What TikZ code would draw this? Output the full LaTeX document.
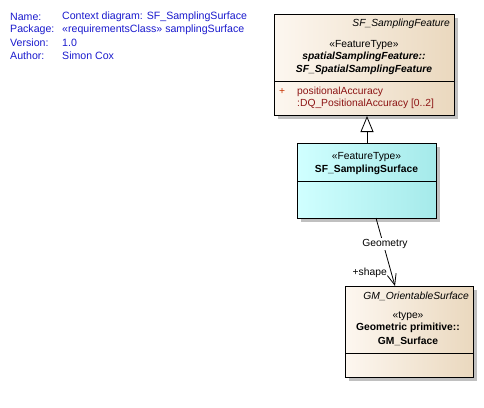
\documentclass[tikz,border=0pt]{standalone}
\usepackage{fontspec}
\setmainfont{Liberation Sans}
\usetikzlibrary{arrows.meta,shadows}
\definecolor{hdrblue}{RGB}{25,25,205}
\definecolor{attrred}{RGB}{140,20,20}
\definecolor{plusred}{RGB}{200,50,0}
\definecolor{beigeL}{RGB}{253,247,240}
\definecolor{beigeR}{RGB}{234,216,190}
\definecolor{cyanL}{RGB}{208,255,255}
\definecolor{cyanR}{RGB}{165,234,234}
\definecolor{shadowgray}{RGB}{192,192,192}
\begin{document}
\begin{tikzpicture}[x=1pt,y=-1pt,
  font=\fontsize{10.3}{12}\selectfont,
  umlbox/.style={draw=black, line width=1pt, inner sep=0pt, anchor=north west,
    drop shadow={shadow xshift=3pt, shadow yshift=-3pt, fill=shadowgray, opacity=1}},
  beigebox/.style={umlbox, left color=beigeL, right color=beigeR},
  cyanbox/.style={umlbox, left color=cyanL, right color=cyanR},
  divider/.style={line width=1pt},
  txt/.style={inner sep=0pt, anchor=center},
  hdr/.style={inner sep=0pt, anchor=west, text=hdrblue, font=\fontsize{10.6}{12}\selectfont},
  attr/.style={inner sep=0pt, anchor=west, text=attrred},
  conn/.style={line width=0.8pt},
  gen/.style={conn, -{Triangle[open, fill=white, length=16pt, width=13pt]}},
  assoc/.style={conn, -{Straight Barb[length=11pt, width=9pt]}}
]
\useasboundingbox (0,0) rectangle (484,407);

% header
\node[hdr] (h1) at (10,17) {Name:};
\node[hdr] (h2) at (10,30) {Package:};
\node[hdr] (h3) at (10,43) {Version:};
\node[hdr] (h4) at (10,56) {Author:};
\node[hdr] (v1) at (62,17) {Context diagram: SF\_SamplingSurface};
\node[hdr] (v2) at (62,30) {«requirementsClass» samplingSurface};
\node[hdr] (v3) at (62,43) {1.0};
\node[hdr] (v4) at (62,56) {Simon Cox};

% SF_SamplingFeature
\node[beigebox, minimum width=180pt, minimum height=101pt] (sf) at (274,14) {};
\draw[divider] (sf.west |- 0,81) -- (sf.east |- 0,81);
\node[txt, anchor=east] (sft) at (450,24) {\itshape SF\_SamplingFeature};
\node[txt] (sfs) at (364,45) {«FeatureType»};
\node[txt] (sfn1) at (364,57) {\bfseries\itshape spatialSamplingFeature::};
\node[txt] (sfn2) at (364,70) {\bfseries\itshape SF\_SpatialSamplingFeature};
\node[inner sep=0pt, anchor=west, text=plusred] (plus) at (279,92) {+};
\node[attr] (a1) at (297,92) {positionalAccuracy};
\node[attr] (a2) at (297,104) {:DQ\_PositionalAccuracy [0..2]};

% SF_SamplingSurface
\node[cyanbox, minimum width=139pt, minimum height=75pt] (ss) at (297,143) {};
\draw[divider] (ss.west |- 0,181) -- (ss.east |- 0,181);
\node[txt] (sss) at (366.5,157) {«FeatureType»};
\node[txt] (ssn) at (366.5,170) {\bfseries SF\_SamplingSurface};

% GM_OrientableSurface
\node[beigebox, minimum width=128pt, minimum height=91pt] (gm) at (345,286) {};
\draw[divider] (gm.west |- 0,353) -- (gm.east |- 0,353);
\node[txt, anchor=east] (gmt) at (469,296) {\itshape GM\_OrientableSurface};
\node[txt] (gms) at (408,316) {«type»};
\node[txt] (gmn1) at (408,328) {\bfseries Geometric primitive::};
\node[txt] (gmn2) at (408,341) {\bfseries GM\_Surface};

% generalization
\draw[gen] (ss.north) -- (ss.north |- sf.south);

% association
\coordinate (as1) at (376,218);
\coordinate (as2) at (395,286);
\draw[assoc] (as1) -- (as2);
\node[txt, fill=white, inner sep=1pt] (geo) at (385,244) {Geometry};
\node[txt, anchor=east] (role) at (387,273) {+shape};
\end{tikzpicture}
\end{document}
